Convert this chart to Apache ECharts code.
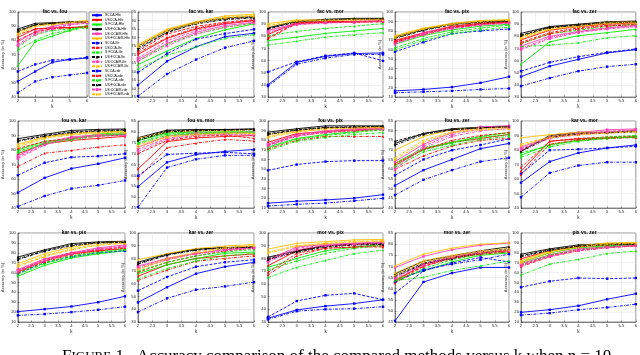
<!DOCTYPE html>
<html>
<head>
<meta charset="UTF-8">
<script src="https://cdn.jsdelivr.net/npm/echarts@6/dist/echarts.min.js"></script>
<style>
  html, body { margin: 0; padding: 0; background: #fff; }
  #main { width: 640px; height: 355px; }
</style>
</head>
<body>
<div id="main"></div>
<script>
var kValues = [2, 3, 4, 5, 6];

var methodNames = [
  'SCCA-Hfe', 'USCCA-Hfe', 'S²FCCA-Hfe', 'US²FCCA-Hfe', 'US²CCA/R-Hfe', 'US²FCCA/R-Hfe',
  'SCCA-Ife', 'USCCA-Ife', 'S²FCCA-Ife', 'US²FCCA-Ife', 'US²CCA/R-Ife', 'US²FCCA/R-Ife',
  'SCCA-rde', 'USCCA-rde', 'S²FCCA-rde', 'US²FCCA-rde', 'US²CCA/R-rde', 'US²FCCA/R-rde'
];

var panelTitles = [
  'fac vs. fou', 'fac vs. kar', 'fac vs. mor', 'fac vs. pix', 'fac vs. zer',
  'fou vs. kar', 'fou vs. mor', 'fou vs. pix', 'fou vs. zer', 'kar vs. mor',
  'kar vs. pix', 'kar vs. zer', 'mor vs. pix', 'mor vs. zer', 'pix vs. zer'
];

var yMins  = [40, 45, 30, 10, 30,  40, 45, 10, 40, 40,  10, 30, 30, 45, 10];
var yMaxs  = [100, 95, 100, 100, 100,  100, 85, 100, 85, 100,  100, 100, 100, 85, 100];
var ySteps = [10, 5, 10, 10, 10,  10, 5, 10, 5, 10,  10, 10, 10, 5, 10];

// one row per method, in legend order
var facFou = [
  [51, 58, 64.5, 66.5, 67.5], [82, 88, 89, 89, 89.5], [62, 79, 83, 87, 90.5],
  [88, 92, 92.5, 93, 93], [79, 86, 90, 92, 93], [86, 91, 92, 93, 94],
  [58, 63, 66, 66.5, 68], [84, 88, 88.5, 89, 89], [75, 84, 87, 88, 90],
  [87, 91, 92, 93, 93], [77, 85, 89, 91, 92.5], [84, 90, 91.5, 92.5, 93.5],
  [43, 51, 54, 55.5, 57], [80, 86, 88, 89, 90], [73, 80, 85, 87, 89],
  [86, 91, 92, 92.5, 93], [76, 84, 88, 91, 92], [85, 90, 91, 92.5, 93]
];
var facKor = [
  [52, 66, 74.5, 80.5, 82.5], [70, 79.5, 85, 88, 90], [64, 72, 79.5, 84.5, 88],
  [75, 84, 89, 91.5, 92.3], [67, 76.5, 83, 87, 89], [76, 85, 89.3, 92.7, 93.7],
  [59.5, 70.5, 79, 82.3, 84.8], [72, 82, 86.5, 89, 90.5], [66, 76, 82, 86, 88.5],
  [74, 83, 88.5, 91, 92], [68, 78, 84, 88, 90], [75, 84.5, 89, 92, 93],
  [45.5, 58.5, 67, 74, 78], [71, 80, 85.5, 88.5, 90], [61.5, 69.5, 74.5, 79.5, 81.7],
  [73, 83, 88, 90.5, 91.5], [66, 75, 82, 86, 88.5], [74.5, 84, 88.5, 91.5, 92.5]
];
var facMor = [
  [40, 58.5, 63.5, 65.8, 66.3], [81.5, 91.5, 92, 92, 92.5], [76.5, 79.3, 82.4, 84.4, 86.5],
  [87, 92.7, 94, 94.8, 94.8], [85, 90.5, 91.5, 92, 93], [90.5, 93.5, 93.5, 94, 94],
  [50.7, 59, 64, 66.3, 59.8], [79, 91, 92, 92.5, 92.5], [80.5, 84, 86.5, 88.3, 90.4],
  [86, 92, 93.5, 94, 94.5], [84, 90, 91, 91.5, 92], [89, 93, 93, 93.5, 94],
  [39, 57, 62, 65, 65], [78, 90.5, 91.5, 91.5, 92], [72.8, 76, 79.3, 81.3, 83],
  [86.5, 92, 93, 94, 94], [83, 89.5, 91, 91.5, 92.5], [88, 92.5, 93, 93.5, 93.5]
];
var facPix = [
  [16.5, 18, 20.5, 25, 31.5], [70, 78, 85, 88, 90], [66, 75, 81, 85, 87],
  [73.5, 82, 87.7, 90, 91], [68, 78, 84, 87, 89], [75, 83, 88, 91, 92],
  [58, 68, 77, 80, 82], [69, 77, 84, 87.5, 89.5], [62, 72, 79, 83, 86],
  [72.5, 81, 87, 89.5, 90.5], [67, 77, 83, 86.5, 88.5], [74, 82.5, 87.5, 90.5, 91.5],
  [14.5, 15.5, 16.5, 18, 19], [68, 76, 83, 87, 89], [60, 70, 77, 81, 84],
  [72, 80.5, 86.5, 89, 90], [66, 76, 82.5, 86, 88], [73, 82, 87, 90, 91]
];
var facZer = [
  [46.8, 55.4, 61, 66.3, 69], [77, 85, 88, 90, 91], [57, 75.4, 80.5, 83, 85.7],
  [82.4, 88, 90, 92, 92.5], [72, 80, 84, 87, 89], [80, 87, 89, 91.5, 92],
  [51.3, 58.5, 63.2, 66.8, 69.5], [75, 83, 87, 89, 90], [74, 82, 85, 88, 90],
  [81, 87.5, 89.5, 91.5, 92], [69, 78, 83, 86, 88], [79, 86, 88.5, 91, 91.5],
  [39, 45.6, 51.3, 55, 57], [74, 82, 86, 88.5, 89.5], [71.5, 72.8, 74.6, 78.7, 80.5],
  [80.5, 87, 89, 91, 91.5], [70, 79, 83.5, 86.5, 88.5], [78, 85.5, 88, 90.5, 91]
];
var fouKor = [
  [50.6, 60.8, 67.2, 70.5, 74.6], [77.4, 84.3, 86.6, 88, 89.4], [80, 86, 87.5, 91, 92],
  [87.8, 90.8, 93.5, 94.2, 94.5], [76, 85, 89, 90.5, 91], [84, 89, 91.5, 92.5, 93],
  [62.6, 71.2, 75, 75.8, 77.4], [81, 86, 88, 89.5, 90.5], [79, 85, 88, 90, 91.5],
  [86.5, 90, 92.5, 93.5, 94], [75, 84, 88.5, 90, 90.5], [83, 88.5, 91, 92, 92.5],
  [41, 48.3, 53.4, 55.7, 59], [68.6, 77.8, 79.7, 82, 83.6], [78, 84.5, 87, 89.5, 91],
  [86, 89.5, 92, 93, 93.5], [74, 83.5, 88, 89.5, 90], [82, 88, 90.5, 91.5, 92]
];
var fouMor = [
  [54.8, 66, 69.6, 71, 71.9], [62.9, 75.5, 77.2, 77.9, 78.3], [76, 79.5, 80, 80, 80],
  [77.3, 80.8, 81.1, 81.1, 81.4], [73, 78, 79.5, 79.5, 80], [77, 80, 80.5, 80.5, 81],
  [59.8, 69.6, 70.2, 70.6, 69.9], [70, 76, 78, 78.5, 77], [75, 79, 79.5, 79.8, 80],
  [76.5, 80.5, 80.8, 81, 81.2], [72, 77, 79, 79, 79], [74, 78, 79, 79.5, 79.5],
  [45.4, 63.6, 67.4, 69.2, 69.2], [58.7, 72.7, 74.8, 76.5, 75.8], [74.5, 78.5, 79, 79.5, 79.5],
  [76, 80, 80.5, 80.8, 81], [71, 76.5, 78.5, 78.8, 78.5], [73, 77.5, 78.8, 79.2, 79.2]
];
var fouPix = [
  [15, 17, 18.3, 20.2, 23.8], [78, 87, 89, 91, 92], [73, 82, 86, 89, 92],
  [88.5, 92, 95, 95, 95], [76, 86, 90, 92, 93], [86, 90, 93, 93.5, 94],
  [49, 55, 58, 59, 59], [75, 85, 88, 90, 91], [72, 81, 85, 88, 91],
  [87, 91, 93.5, 94, 94.5], [75, 85, 89, 91, 92], [84, 89, 92, 93, 93.5],
  [12, 13.8, 15.1, 17.4, 20], [71, 80, 84, 84, 84], [69.6, 79, 83, 86, 88],
  [86, 90.5, 93, 93.5, 94], [74, 84, 88, 90.5, 91.5], [83, 88.5, 91.5, 92.5, 93]
];
var fouZer = [
  [51.6, 59.6, 65.1, 70.7, 73.4], [62, 70.5, 74, 76, 78], [63.2, 71, 74, 77, 79],
  [73.4, 78.6, 81, 81.8, 82.3], [64, 73, 79, 82, 82.5], [69.9, 77, 80.5, 81.5, 82],
  [56.9, 65.1, 69.9, 72.6, 75.8], [63, 70, 75, 77.5, 79], [62, 70, 73.5, 76.5, 78],
  [74.5, 78.5, 80.5, 81.5, 82], [61, 72, 78, 81, 82], [66, 75, 79.5, 81, 81.5],
  [46.7, 54.6, 59.6, 64, 66], [60, 67, 72, 75, 76], [61, 69, 72.5, 75.5, 77],
  [72.5, 78, 80.5, 81.5, 82], [60, 71, 77, 80, 81], [65, 74, 79, 80.5, 81]
];
var korMor = [
  [57.5, 72, 78, 81.4, 83.5], [65.3, 86, 87.7, 88.5, 89], [76.5, 83.7, 86.6, 88, 89],
  [79.2, 90, 92.2, 92.2, 93.3], [82, 89, 92, 94, 94.5], [88.4, 90.6, 92.2, 92.2, 93],
  [63.5, 79.9, 80.5, 81.4, 82.5], [68, 86, 88, 89, 89.5], [78, 83, 87, 89, 90],
  [80, 89, 91.5, 92, 93], [81, 88.5, 91, 93, 94], [84, 89, 91, 92, 93],
  [47.4, 64.2, 69.3, 71.6, 71.6], [63, 84, 87, 88, 88.5], [75, 82, 86, 88, 89],
  [79, 88.5, 91, 91.8, 92.5], [80, 88, 90.5, 92.5, 93.5], [83, 88.5, 90.5, 91.5, 92.5]
];
var korPix = [
  [20.5, 23, 25.7, 30, 36], [61, 72, 79, 82, 84], [56.3, 67.3, 74.7, 79, 82],
  [75.7, 83, 89.3, 91, 91.7], [63, 74, 80, 85, 88], [69, 79, 85.7, 90, 91],
  [59, 70, 76, 80, 82], [62, 73, 80, 83, 86], [60, 70, 77, 81, 84],
  [74, 82, 88, 90.5, 91], [62, 73, 79.5, 84, 87], [67, 77, 84, 88.5, 90],
  [16.7, 18, 20, 22.3, 25.5], [60, 71, 78, 82, 85], [58, 69, 76, 80, 83],
  [73, 81.5, 87, 90, 90.5], [61, 72, 79, 83.5, 86], [66, 76, 83, 87.5, 89.5]
];
var korZer = [
  [45.4, 57.3, 68, 73.5, 77], [66, 75, 80, 82, 83.5], [68, 75, 80, 84, 85],
  [77, 83.5, 87.3, 88.6, 89.2], [74, 80, 84, 87, 89], [79, 83.8, 87.8, 89.7, 91],
  [54.6, 65.4, 73.5, 77, 79], [69, 77, 82, 86, 88], [70, 77, 82, 85, 87],
  [76, 83, 87, 88.5, 89], [73, 79.5, 84, 87, 88.5], [71, 79, 84, 88, 90],
  [37.8, 48.6, 55.4, 58, 61.4], [62.7, 70.8, 77.8, 80, 82], [64, 72, 78, 82, 84],
  [75.5, 82.5, 86.5, 88, 88.8], [72, 79, 83.5, 86.5, 88], [72, 80, 85, 88.5, 90]
];
var morPix = [
  [33, 39.5, 42.5, 44.5, 47.5], [74.3, 86, 90, 91, 92], [73, 80, 86, 89, 91],
  [81, 86, 90, 91.5, 92], [79, 89, 91, 92, 93], [87.3, 91.9, 93.2, 94.6, 95],
  [34, 46.5, 51, 52.5, 47.5], [69, 84, 88, 89, 89], [71, 78, 84, 88, 90],
  [80, 85.5, 89.5, 91, 91.5], [78, 88, 90.5, 91.5, 92.5], [85, 90, 92, 93.5, 94],
  [32, 38.5, 40, 40.5, 42], [67, 82, 88, 89, 90], [65, 73, 78.4, 83.8, 86.5],
  [79, 85, 89, 90.5, 91], [77, 87, 90, 91, 92], [84, 89.5, 91.5, 93, 93.5]
];
var morZer = [
  [45.5, 63, 67, 69.5, 69.5], [63.3, 71, 74, 76, 77], [64, 68, 72, 75, 76],
  [66.7, 72.4, 74.7, 77, 78.8], [69.5, 74.5, 77.5, 79.5, 80.5], [70.2, 75.5, 78.2, 80, 80.6],
  [58, 68, 71.5, 74, 72], [64, 70, 74, 76, 77], [63, 69, 73, 75.5, 76.5],
  [66, 71.5, 74, 76.5, 78], [65, 71, 74.5, 76.5, 77.5], [67, 72.5, 75, 77, 78],
  [63, 68.5, 71, 73, 75.5], [62.5, 70, 73.5, 75.5, 76.5], [63.6, 65.1, 68.2, 70.2, 72.4],
  [65.5, 71, 73.5, 76, 77.5], [64.5, 70.5, 74, 76, 77], [66, 72, 74.5, 76.5, 77.5]
];
var pixZer = [
  [19.8, 22.4, 26.4, 33, 38.6], [74, 82, 86, 88, 89], [70, 80, 85, 87, 88.5],
  [78.5, 84, 88, 89, 89.7], [69, 78, 84, 86, 88], [72, 82, 87, 90, 90.5],
  [45.2, 51.2, 54.5, 53.8, 54.5], [67, 77, 83, 86, 87], [68, 78, 83, 86, 88],
  [77, 83, 87, 88.5, 89], [68, 77, 83, 85.5, 87.5], [71, 81, 86, 89, 90],
  [17, 19, 22.4, 24.7, 28], [66, 76, 82, 85, 87], [57.4, 68.6, 73.3, 79.2, 81.8],
  [76, 82.5, 86.5, 88, 88.5], [67, 76, 82, 85, 87], [70, 80, 85.5, 88.5, 89.5]
];

var panels = [facFou, facKor, facMor, facPix, facZer, fouKor, fouMor, fouPix,
  fouZer, korMor, korPix, korZer, morPix, morZer, pixZer];

// layout of the 3 x 5 subplots (pixels)
var colLeft = [13, 138, 268, 395, 521];
var colRight = [125, 254, 383, 509, 638];
var rowTop = [12, 121, 233];
var rowBottom = [97, 208, 322];

var colors = ['#0000ff', '#ff0000', '#00ee00', '#000000', '#ff3fb4', '#ffc000'];
var symbols = ['rect', 'triangle', 'triangle', 'triangle', 'rect', 'triangle'];
var lineTypes = ['solid', [3, 1.5], [3, 1.2, 0.8, 1.2]];

var axisColor = '#262626';
var grids = [], xAxes = [], yAxes = [], titles = [], series = [];

panels.forEach(function (rows, p) {
  var r = Math.floor(p / 5), c = p % 5;
  var left = colLeft[c];
  var right = p === 0 ? 87 : colRight[c];
  grids.push({
    left: left, top: rowTop[r], width: right - left, height: rowBottom[r] - rowTop[r],
    show: true, borderColor: axisColor, borderWidth: 0.5, backgroundColor: '#fff'
  });
  titles.push({
    text: panelTitles[p], left: (left + right) / 2, top: rowTop[r] - 8, textAlign: 'center',
    textStyle: { fontSize: 5, fontWeight: 'bold', color: '#000', fontFamily: 'Liberation Sans' }
  });
  xAxes.push({
    gridIndex: p, type: 'value', min: 2, max: 6, interval: p === 0 ? 1 : 0.5,
    name: 'k', nameLocation: 'middle', nameGap: 7,
    nameTextStyle: { fontSize: 4.5, color: axisColor },
    axisLine: { lineStyle: { color: axisColor, width: 0.5 } },
    axisTick: { inside: true, length: 1.5, lineStyle: { width: 0.5 } },
    axisLabel: { fontSize: 4.2, color: axisColor, margin: 2 },
    splitLine: { show: true, lineStyle: { color: '#e3e3e3', width: 0.5 } }
  });
  yAxes.push({
    gridIndex: p, type: 'value', min: yMins[p], max: yMaxs[p], interval: ySteps[p],
    name: 'Accuracy (in %)', nameLocation: 'middle', nameGap: 9,
    nameTextStyle: { fontSize: 4.2, color: axisColor },
    axisLine: { show: true, lineStyle: { color: axisColor, width: 0.5 } },
    axisTick: { show: true, inside: true, length: 1.5, lineStyle: { width: 0.5 } },
    axisLabel: { fontSize: 4.2, color: axisColor, margin: 2 },
    splitLine: { show: true, lineStyle: { color: '#e3e3e3', width: 0.5 } }
  });
  rows.forEach(function (vals, m) {
    var col = colors[m % 6];
    series.push({
      name: methodNames[m], type: 'line', xAxisIndex: p, yAxisIndex: p,
      data: kValues.map(function (k, i) { return [k, vals[i]]; }),
      symbol: symbols[m % 6], symbolSize: 2.4, showSymbol: true,
      lineStyle: { color: col, width: 0.9, type: lineTypes[Math.floor(m / 6)] },
      itemStyle: { color: col },
      animation: false, silent: true
    });
  });
});

var chart = echarts.init(document.getElementById('main'), null, { renderer: 'canvas' });
chart.setOption({
  animation: false,
  backgroundColor: '#fff',
  title: titles,
  grid: grids,
  xAxis: xAxes,
  yAxis: yAxes,
  legend: {
    data: methodNames, orient: 'vertical', left: 89, top: 12,
    itemWidth: 10, itemHeight: 3.4, itemGap: 1.25, padding: [1.5, 2],
    selectedMode: false, backgroundColor: '#fff', borderColor: axisColor, borderWidth: 0.5,
    textStyle: { fontSize: 3.4, lineHeight: 3.4, color: '#000', padding: [0, 0, 0, -2] }
  },
  graphic: [{
    type: 'text', left: 62, top: 348,
    style: {
      text: '{a|F}{b|IGURE} 1.  Accuracy comparison of the compared methods versus k when n = 10',
      fill: '#000',
      font: '17px "Liberation Serif"',
      rich: {
        a: { fontSize: 17, fontFamily: 'Liberation Serif' },
        b: { fontSize: 13, fontFamily: 'Liberation Serif' }
      }
    }
  }],
  series: series
});
</script>
</body>
</html>
